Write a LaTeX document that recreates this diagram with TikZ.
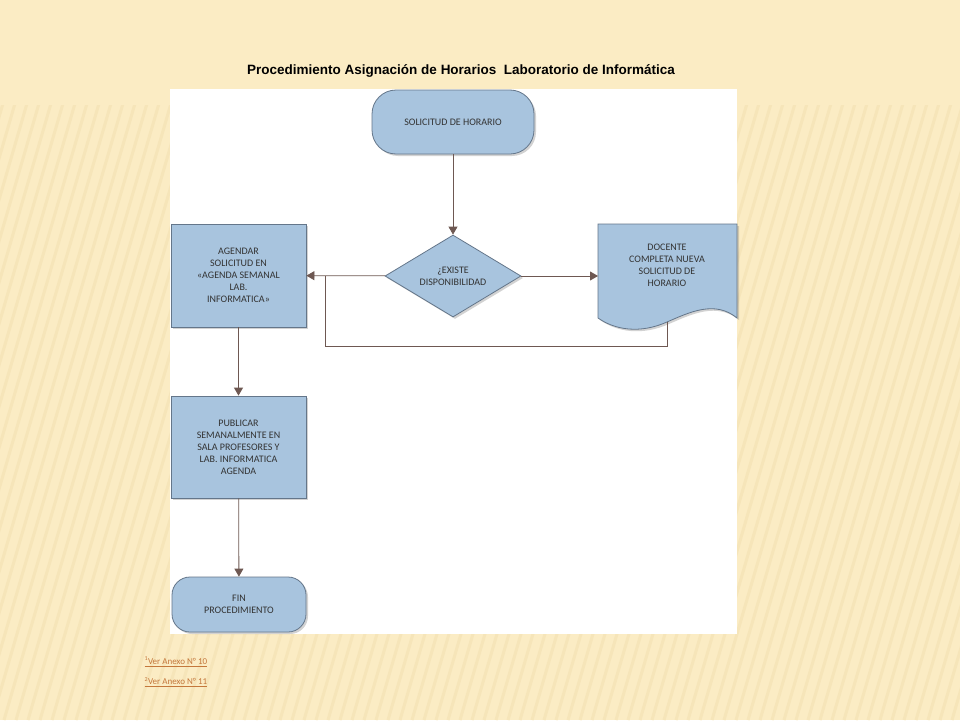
\documentclass[tikz,border=0pt]{standalone}
\usepackage{fontspec}
\setmainfont{Carlito}
\newfontfamily\titlefont{Liberation Sans}
\usepackage{tikz}
\usetikzlibrary{positioning,calc,shadows,shapes.geometric,arrows.meta}
\definecolor{cream}{RGB}{251,236,196}
\definecolor{stripe}{RGB}{246,229,185}
\definecolor{boxblue}{RGB}{168,196,222}
\definecolor{boxedge}{RGB}{100,118,138}
\definecolor{flowbrown}{RGB}{110,88,82}
\definecolor{notecol}{RGB}{196,120,60}

\tikzset{
  flowbox/.style={draw=boxedge,fill=boxblue,thick,align=center,font=\fontsize{10}{12}\selectfont,
    text=black!80,drop shadow={opacity=0.35,shadow xshift=2pt,shadow yshift=-2pt}},
  flowline/.style={flowbrown,thick,-{Triangle[length=8pt,width=9pt]}}
}

\begin{document}
\begin{tikzpicture}[x=1pt,y=-1pt]
		
		\useasboundingbox (0,0) rectangle (960,720);
		\fill[cream] (0,0) rectangle (960,720);
		\begin{scope}
		  \clip (0,105) rectangle (960,720);
		  \foreach \i in {-200,-188,...,960}
		    \draw[stripe,line width=3pt] (\i,720) -- ++(180,-620);
		\end{scope}
		
		\node[font=\titlefont\bfseries\fontsize{13.5}{16}\selectfont] (title) at (461,71) {Procedimiento Asignación de Horarios\ \ Laboratorio de Informática};
		
		\fill[white] (170,89) rectangle (737,634);
		
		\node[flowbox,rounded corners=24pt,minimum width=162pt,minimum height=64pt] (start) at (453,122) {SOLICITUD DE HORARIO};
		
		\node[flowbox,diamond,aspect=1.65,inner sep=1pt,minimum width=136pt,minimum height=82pt] (check) at (453,276) {¿EXISTE\\DISPONIBILIDAD};
		
		\node[flowbox,minimum width=135pt,minimum height=103pt] (agenda) at (238.5,275.5) {AGENDAR\\SOLICITUD EN\\«AGENDA SEMANAL\\LAB.\\INFORMATICA»};
		
		\draw[flowbox] (598,224) -- (737,224) -- (737,318) .. controls (715,300) and (690,312) .. (667,322) .. controls (640,334) and (615,330) .. (598,318) -- cycle;
		\node[align=center,font=\fontsize{10}{12}\selectfont,text=black!80] (docente) at (667,265) {DOCENTE\\COMPLETA NUEVA\\SOLICITUD DE\\HORARIO};
		\coordinate (docbottom) at (667,322);
		\coordinate (docleft) at (598,276);
		
		\node[flowbox,minimum width=135pt,minimum height=102pt] (publicar) at (238.5,447) {PUBLICAR\\SEMANALMENTE EN\\SALA PROFESORES Y\\LAB. INFORMATICA\\AGENDA};
		
		\node[flowbox,rounded corners=18pt,minimum width=134pt,minimum height=55pt] (fin) at (239,604.5) {FIN\\PROCEDIMIENTO};
		
		\draw[flowline] (start) -- (check);
		\draw[flowline] (check) -- (agenda);
		\draw[flowline] (check) -- (docleft);
		\draw[flowbrown,thick] (docbottom) |- (325,346) -- (325,276);
		\draw[flowline] (agenda) -- (publicar);
		\draw[flowline] (publicar) -- (fin);
		
		%footnotes
		\node[anchor=west,text=notecol,font=\fontsize{9}{10}\selectfont] (note1) at (141,662) {\underline{\textsuperscript{1}Ver Anexo N° 10}};
		\node[anchor=west,text=notecol,font=\fontsize{9}{10}\selectfont] (note2) at (141,682) {\underline{\textsuperscript{2}Ver Anexo N° 11}};
		
		\end{tikzpicture}
\end{document}
